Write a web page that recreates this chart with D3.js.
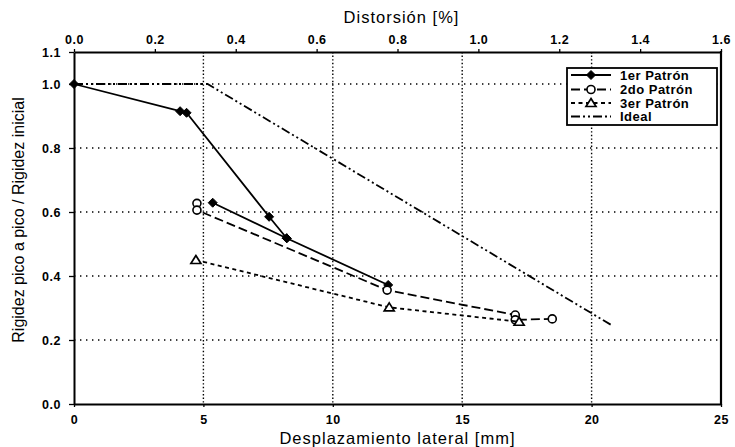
<!DOCTYPE html>
<html>
<head>
<meta charset="utf-8">
<script src="https://cdn.jsdelivr.net/npm/d3@7"></script>
<style>
  html, body { margin: 0; padding: 0; background: #fff; }
  svg { display: block; font-family: "Liberation Sans", Arial, sans-serif; }
</style>
</head>
<body>
<svg id="chart" width="735" height="447"></svg>
<script>
// Tick values for the three axes
const dispTicks = [0, 5, 10, 15, 20, 25];                    // mm
const distTicks = [0, 0.2, 0.4, 0.6, 0.8, 1.0, 1.2, 1.4, 1.6]; // %
const ratioTicks = [0, 0.2, 0.4, 0.6, 0.8, 1.0, 1.1];
const gridDisp = [5, 10, 15, 20];
const gridRatio = [0.2, 0.4, 0.6, 0.8, 1.0];

// Series: lateral displacement (mm) and stiffness ratio, in drawing order
const p1Disp  = [0, 4.1, 4.35, 7.54, 8.22, 5.36, 8.22, 12.14];
const p1Ratio = [1.0, 0.915, 0.91, 0.585, 0.518, 0.629, 0.518, 0.372];

const p2Disp  = [4.75, 4.75, 12.1, 17.05, 17.05, 18.48];
const p2Ratio = [0.627, 0.606, 0.356, 0.278, 0.263, 0.266];

const p3Disp  = [4.71, 12.18, 17.2];
const p3Ratio = [0.45, 0.302, 0.257];

const idealDisp  = [0, 5.16, 20.8];
const idealRatio = [1.0, 1.0, 0.245];

const legendLabels = ["1er Patrón", "2do Patrón", "3er Patrón", "Ideal"];

const svg = d3.select("#chart");
const plot = { left: 74, right: 721, top: 52, bottom: 404 };

const x = d3.scaleLinear().domain([0, 25]).range([plot.left, plot.right]);
const xTop = d3.scaleLinear().domain([0, 1.6]).range([plot.left, plot.right]);
const y = d3.scaleLinear().domain([0, 1.1]).range([plot.bottom, plot.top]);

// Dotted grid
svg.append("g").selectAll("line").data(gridDisp).join("line")
  .attr("x1", d => x(d)).attr("x2", d => x(d))
  .attr("y1", plot.top).attr("y2", plot.bottom)
  .attr("stroke", "#000").attr("stroke-width", 1.4)
  .attr("stroke-dasharray", "1.4,2.2");
svg.append("g").selectAll("line").data(gridRatio).join("line")
  .attr("x1", plot.left).attr("x2", plot.right)
  .attr("y1", d => y(d)).attr("y2", d => y(d))
  .attr("stroke", "#000").attr("stroke-width", 1.4)
  .attr("stroke-dasharray", "1.4,4.6");

// Axes
const tickFont = g => g.selectAll("text")
  .attr("font-size", 12.5).attr("font-weight", "bold").attr("letter-spacing", 0.5)
  .attr("font-family", "'Liberation Sans', Arial, sans-serif").attr("fill", "#000");
const axisStyle = g => {
  g.select(".domain").attr("stroke", "#000").attr("stroke-width", 2);
  g.selectAll(".tick line").attr("stroke", "#000").attr("stroke-width", 1.3);
};

svg.append("g").attr("transform", `translate(0,${plot.bottom})`)
  .call(d3.axisBottom(x).tickValues(dispTicks).tickFormat(d3.format("d"))
    .tickSizeInner(3).tickSizeOuter(0).tickPadding(8))
  .call(axisStyle).call(tickFont);

svg.append("g").attr("transform", `translate(0,${plot.top})`)
  .call(d3.axisTop(xTop).tickValues(distTicks).tickFormat(d3.format(".1f"))
    .tickSizeInner(3).tickSizeOuter(0).tickPadding(5))
  .call(axisStyle).call(tickFont);

svg.append("g").attr("transform", `translate(${plot.left},0)`)
  .call(d3.axisLeft(y).tickValues(ratioTicks).tickFormat(d3.format(".1f"))
    .tickSizeInner(5).tickSizeOuter(0).tickPadding(8))
  .call(axisStyle).call(tickFont);

// Right frame edge
svg.append("line")
  .attr("x1", plot.right).attr("x2", plot.right)
  .attr("y1", plot.top - 1).attr("y2", plot.bottom + 1)
  .attr("stroke", "#000").attr("stroke-width", 2.2);

// Axis titles
svg.append("text").attr("x", (plot.left + plot.right) / 2 + 4).attr("y", 23)
  .attr("text-anchor", "middle").attr("font-size", 16.5).attr("letter-spacing", 1)
  .text("Distorsión [%]");
svg.append("text").attr("x", (plot.left + plot.right) / 2).attr("y", 444)
  .attr("text-anchor", "middle").attr("font-size", 16.5).attr("letter-spacing", 1)
  .text("Desplazamiento lateral [mm]");
svg.append("text")
  .attr("transform", `translate(24,${(plot.top + plot.bottom) / 2 - 8}) rotate(-90)`)
  .attr("text-anchor", "middle").attr("font-size", 16)
  .text("Rigidez pico a pico / Rigidez inicial");

// Line generator
const zip = (xs, ys) => xs.map((v, i) => [v, ys[i]]);
const line = d3.line().x(d => x(d[0])).y(d => y(d[1]));

const series = [
  { pts: zip(p1Disp, p1Ratio), dash: null, width: 1.8, marker: "diamond" },
  { pts: zip(p2Disp, p2Ratio), dash: "9,4", width: 1.8, marker: "circle" },
  { pts: zip(p3Disp, p3Ratio), dash: "4,3.5", width: 1.8, marker: "triangle" },
  { pts: zip(idealDisp, idealRatio), dash: "9,3,2,3,2,3", width: 1.8, marker: null }
];

function drawMarker(g, type, cx, cy) {
  if (type === "diamond") {
    g.append("path")
      .attr("d", `M${cx},${cy - 4.5}L${cx + 4.5},${cy}L${cx},${cy + 4.5}L${cx - 4.5},${cy}Z`)
      .attr("fill", "#000").attr("stroke", "#000").attr("stroke-width", 1);
  } else if (type === "circle") {
    g.append("circle").attr("cx", cx).attr("cy", cy).attr("r", 4)
      .attr("fill", "#fff").attr("stroke", "#000").attr("stroke-width", 1.6);
  } else if (type === "triangle") {
    g.append("path")
      .attr("d", `M${cx},${cy - 4.5}L${cx + 5},${cy + 3.5}L${cx - 5},${cy + 3.5}Z`)
      .attr("fill", "#fff").attr("stroke", "#000").attr("stroke-width", 1.7);
  }
}

series.forEach(s => {
  const g = svg.append("g");
  g.append("path").attr("d", line(s.pts))
    .attr("fill", "none").attr("stroke", "#000").attr("stroke-width", s.width)
    .attr("stroke-dasharray", s.dash);
  if (s.marker) s.pts.forEach(p => drawMarker(g, s.marker, x(p[0]), y(p[1])));
});

// Legend
const lg = svg.append("g");
lg.append("rect").attr("x", 567).attr("y", 68).attr("width", 150).attr("height", 57)
  .attr("fill", "#fff").attr("stroke", "#000").attr("stroke-width", 1.8);
const rowY = [75, 89.5, 103, 116.5];
series.forEach((s, i) => {
  lg.append("line").attr("x1", 571).attr("x2", 611).attr("y1", rowY[i]).attr("y2", rowY[i])
    .attr("stroke", "#000").attr("stroke-width", s.width).attr("stroke-dasharray", s.dash);
  if (s.marker) drawMarker(lg, s.marker, 591, rowY[i]);
  lg.append("text").attr("x", 620).attr("y", rowY[i] + 4.5)
    .attr("font-size", 13).attr("font-weight", "bold").attr("letter-spacing", 0.5)
    .text(legendLabels[i]);
});
</script>
</body>
</html>
